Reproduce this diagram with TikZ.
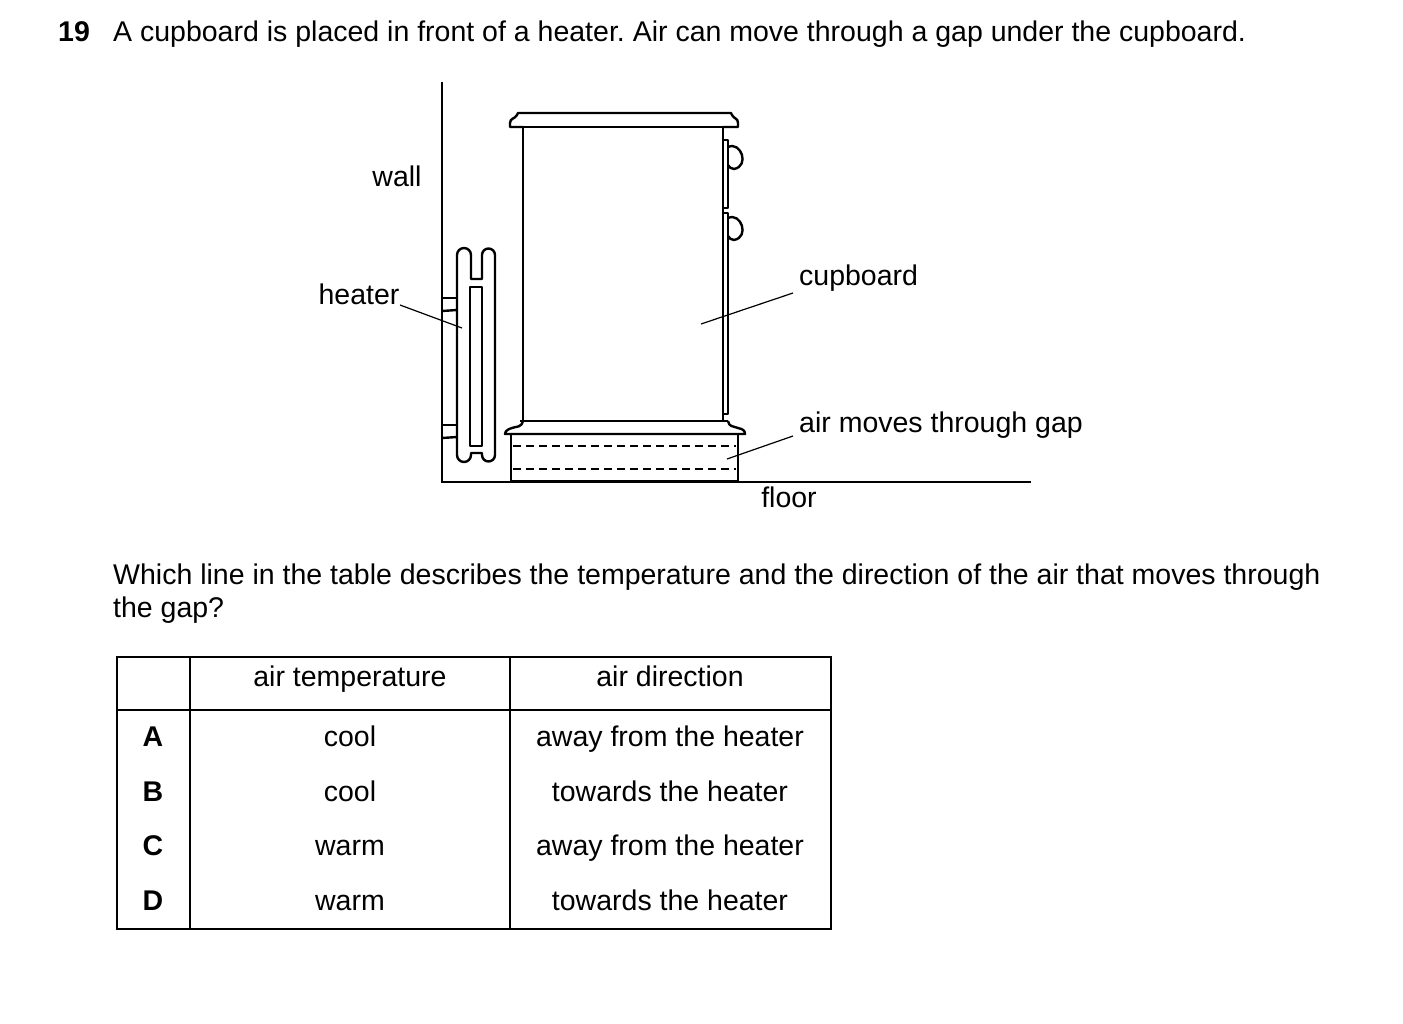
\documentclass[tikz,border=0pt]{standalone}
\usepackage{fontspec}
\setmainfont{Liberation Sans}
\frenchspacing
\begin{document}
\begin{tikzpicture}[x=1pt,y=-1pt,
  txt/.style={inner sep=0pt,font=\fontsize{28.5}{34}\selectfont,text height=0.72em,text depth=0.2em},
  ln/.style={line width=2.4pt,line join=round},
  thin/.style={line width=1.2pt},
  tab/.style={line width=1.3pt}]
\useasboundingbox (0,0) rectangle (1403,1023);
% header
\node[txt,anchor=base west] (num) at (58,41) {\textbf{19}};
\node[txt,anchor=base west] (q) at (113,41) {A cupboard is placed in front of a heater. Air can move through a gap under the cupboard.};
% wall and floor
\draw[thin] (442,82) -- (442,482) -- (1031,482);
% heater
\draw[ln] (457,455) -- (457,255) arc[start angle=180,end angle=360,radius=7] -- (471,279) -- (482,279) -- (482,255) arc[start angle=180,end angle=360,radius=6.5] -- (495,455) arc[start angle=0,end angle=180,radius=6.5] -- (482,453) -- (471,453) -- (471,455) arc[start angle=0,end angle=180,radius=7];
\draw[ln] (470,287) rectangle (482,446);
\draw[ln] (442,298) -- (457,298); \draw[ln] (442,311) -- (457,310);
\draw[ln] (442,425) -- (457,425); \draw[ln] (442,438) -- (457,437);
% cupboard top
\draw[ln] (523,127) -- (510,127) -- (510,123) .. controls (510,118) and (515,119) .. (517,115) -- (518,113) -- (731,113) -- (732,115) .. controls (734,119) and (738,118) .. (738,123) -- (738,127) -- (723,127);
\draw[thin] (523,127) -- (723,127);
% body
\draw[ln] (523,127) -- (523,421);
\draw[ln] (723,127) -- (723,421);
\draw[ln] (723,140) -- (728,140) -- (728,208) -- (723,208);
\draw[ln] (723,213) -- (728,213) -- (728,414) -- (723,414);
\draw[ln] (728,147) .. controls (741,141) and (750,166) .. (734,169) .. controls (731,169) and (729,167) .. (728,165);
\draw[ln] (728,218) .. controls (741,212) and (750,237) .. (734,240) .. controls (731,240) and (729,238) .. (728,236);
% plinth
\draw[ln] (520,421) -- (728,421);
\draw[ln] (523,421) .. controls (521,428) and (517,426) .. (512,428) .. controls (505,430) and (505,433) .. (505,434) -- (745,434) .. controls (745,430) and (742,429) .. (738,428) .. controls (733,426) and (729,427) .. (728,421);
\draw[ln] (511,434) -- (511,481) -- (738,481) -- (738,434);
\draw[thin,dash pattern=on 8pt off 5pt] (513,446) -- (736,446);
\draw[thin,dash pattern=on 8pt off 5pt] (513,469) -- (736,469);
% labels
\node[txt] (wall) at (397,184) {wall};
\node[txt] (heater) at (359,302) {heater};
\coordinate (hp) at (462,328);
\draw[thin] (400,305) -- (hp);
\node[txt,anchor=west] (cup) at (799,283) {cupboard};
\coordinate (cp) at (701,324);
\draw[thin] (793,293) -- (cp);
\node[txt,anchor=west] (gap) at (799,430) {air moves through gap};
\coordinate (gp) at (727,459);
\draw[thin] (793,436) -- (gp);
\node[txt] (floor) at (789,505) {floor};
% question
\node[txt,anchor=base west] (q2) at (113,584) {Which line in the table describes the temperature and the direction of the air that moves through};
\node[txt,anchor=base west] (q3) at (113,617) {the gap?};
% table
\draw[tab] (117,657) rectangle (831,929);
\draw[tab] (117,710) -- (831,710);
\draw[tab] (190,657) -- (190,929);
\draw[tab] (510,657) -- (510,929);
\node[txt] (h1) at (350,684) {air temperature};
\node[txt] (h2) at (670,684) {air direction};
\foreach \l/\t/\d/\y in {A/cool/away from the heater/744,B/cool/towards the heater/799,C/warm/away from the heater/853,D/warm/towards the heater/908}{
  \node[txt] (l\l) at (153,\y) {\textbf{\l}};
  \node[txt] (t\l) at (350,\y) {\t};
  \node[txt] (d\l) at (670,\y) {\d};
}
\end{tikzpicture}
\end{document}
